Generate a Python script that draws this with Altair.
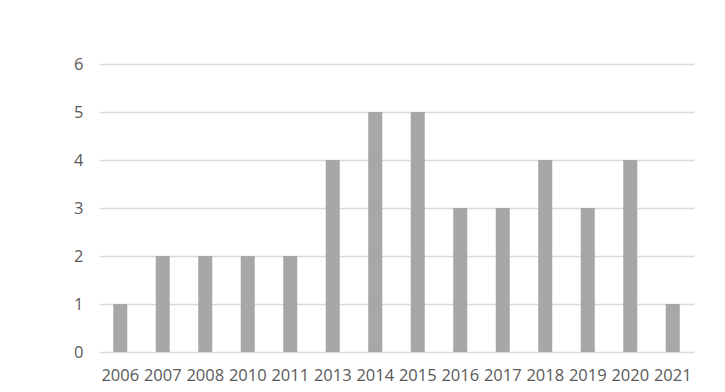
import altair as alt
import pandas as pd

years = ["2006", "2007", "2008", "2010", "2011", "2013", "2014", "2015",
         "2016", "2017", "2018", "2019", "2020", "2021"]
counts = [1, 2, 2, 2, 2, 4, 5, 5, 3, 3, 4, 3, 4, 1]

df = pd.DataFrame({"year": years, "count": counts})

font = "Open Sans"
label_color = "#595959"

chart = alt.Chart(df).mark_bar(color="#a7a7aa").encode(
    x=alt.X("year:N", sort=years,
            scale=alt.Scale(paddingInner=0.67, paddingOuter=0.335),
            axis=alt.Axis(title=None, labelAngle=0, domain=False, ticks=False,
                          grid=False,
                          labelPadding=15, labelFont=font, labelFontSize=16.5,
                          labelColor=label_color)),
    y=alt.Y("count:Q", scale=alt.Scale(domain=[0, 6], nice=False),
            axis=alt.Axis(title=None, values=[0, 1, 2, 3, 4, 5, 6], domain=False,
                          ticks=False, gridColor="#d9d9d9", gridWidth=1.3,
                          labelPadding=16, labelFont=font, labelFontSize=16.5,
                          labelColor=label_color)),
).properties(
    width=595, height=288,
    background="white",
    autosize=alt.AutoSizeParams(type="none"),
    padding={"left": 99, "top": 64, "right": 31, "bottom": 40},
).configure_view(strokeWidth=0, stroke="transparent")

chart.save("out.html", embed_options={"renderer": "svg", "actions": False})
